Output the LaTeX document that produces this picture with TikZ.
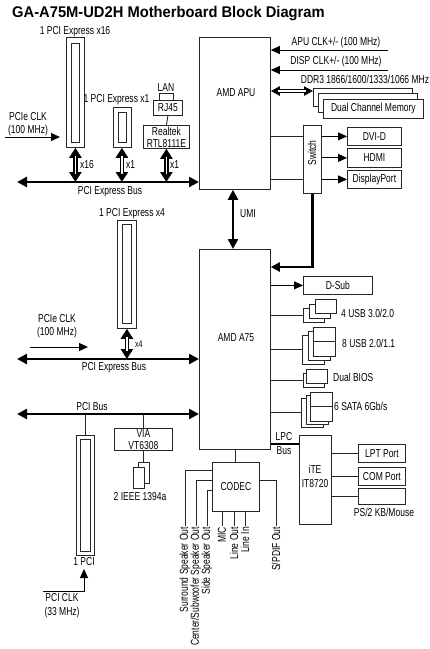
\documentclass[tikz,border=0pt]{standalone}
\usepackage{fontspec}
\setmainfont{Liberation Sans}[FakeStretch=0.74]
\newfontfamily\titlefont{Liberation Sans}[FakeStretch=0.95]
\usetikzlibrary{arrows.meta}
\newcommand\bx[7][]{\node[box,anchor=north west,minimum width={#5-#3},minimum height={#6-#4},#1] (#2) at (#3,#4) {#7};}
\begin{document}
\begin{tikzpicture}[x=1pt,y=-1pt,
  every node/.style={inner sep=0pt, font=\fontsize{11.5}{12}\selectfont},
  box/.style={draw=black!85, fill=white, line width=0.8pt, inner sep=0pt},
  ln/.style={draw=black!85, line width=0.9pt},
  bus/.style={line width=2.6pt, {Triangle[length=10pt,width=10pt]}-{Triangle[length=10pt,width=10pt]}},
  umi/.style={line width=2.4pt, {Triangle[length=10pt,width=10pt]}-{Triangle[length=10pt,width=10pt]}},
  clk/.style={line width=0.9pt, -{Triangle[length=9pt,width=8pt]}},
  dblout/.style={line width=4.6pt, {Triangle[length=10pt,width=12pt]}-{Triangle[length=10pt,width=12pt]}},
  dblsout/.style={line width=4pt, {Triangle[length=9pt,width=9pt]}-{Triangle[length=9pt,width=9pt]}},
  dblin/.style={line width=1.4pt, white, shorten <=8pt, shorten >=8pt},
  rot/.style={rotate=90, anchor=east, inner sep=0pt},
]
\fill[white] (0,0) rectangle (430,649);
\useasboundingbox (0,0) rectangle (430,649);

% title
\node[anchor=base west, font=\titlefont\fontsize{15.5}{18}\selectfont\bfseries] (title) at (12,17) {GA-A75M-UD2H Motherboard Block Diagram};

% APU and A75
\bx{apu}{199}{37}{270}{189}{}
\node (apulbl) at (236,93) {AMD APU};
\bx{a75}{199}{249}{270}{449}{}
\node (a75lbl) at (236,338) {AMD A75};
\draw[umi] ([xshift=34pt]apu.south west) -- ([xshift=34pt]a75.north west);
\node[anchor=west] (umilbl) at (240,214) {UMI};

% clocks into APU
\coordinate (apuclk) at (388,50);
\draw[clk] (apuclk) -- (apuclk -| apu.east);
\node (apuclklbl) at (336,43) {APU CLK+/- (100 MHz)};
\coordinate (dispclk) at (388,70);
\draw[clk] (dispclk) -- (dispclk -| apu.east);
\node (dispclklbl) at (336,62) {DISP CLK+/- (100 MHz)};
\node (ddrlbl) at (365,79) {DDR3 1866/1600/1333/1066 MHz};

% memory
\bx{mem1}{313}{88}{412}{106}{}
\bx{mem2}{318}{93}{417}{112}{}
\bx{mem3}{323}{99}{423}{118}{Dual Channel Memory}
\draw[dblsout] (apu.east |- 0,91) -- (mem1.west |- 0,91);
\draw[dblin, shorten <=7pt, shorten >=7pt] (apu.east |- 0,91) -- (mem1.west |- 0,91);

% switch and display outputs
\bx{sw}{303}{125}{321}{193}{}
\node[rotate=90] (swlbl) at (312,153) {Switch};
\bx{dvi}{347}{127}{401}{145}{DVI-D}
\bx{hdmi}{347}{148}{401}{167}{HDMI}
\bx{dp}{347}{170}{401}{188}{DisplayPort}
\draw[ln] (apu.east |- dvi.west) -- (sw.west |- dvi.west);
\draw[ln] (apu.east |- dp.west) -- (sw.west |- dp.west);
\draw[clk] (sw.east |- dvi.west) -- (dvi.west);
\draw[clk] (sw.east |- hdmi.west) -- (hdmi.west);
\draw[clk] (sw.east |- dp.west) -- (dp.west);
\draw[line width=2.4pt, -{Triangle[length=9pt,width=9pt]}] (sw.south) |- ([yshift=-18pt]a75.north east);

% A75 right side
\bx{dsub}{303}{276}{372}{294}{D-Sub}
\draw[clk] (a75.east |- dsub.west) -- (dsub.west);

\bx{usb3c}{303}{308}{324}{322}{}
\bx{usb3b}{309}{303.5}{330}{317.5}{}
\bx{usb3a}{315}{299}{336}{313}{}
\draw[ln] (a75.east |- usb3c.west) -- (usb3c.west);
\node[anchor=west] (usb3lbl) at (341,313) {4 USB 3.0/2.0};

\bx{usb2c}{302}{335}{324}{364}{}
\bx{usb2b}{307.5}{331}{329.5}{360}{}
\bx{usb2a}{313}{327}{335}{356}{}
\draw[ln] (usb2a.west) -- (usb2a.east);
\draw[ln] (a75.east |- usb2c.west) -- (usb2c.west);
\node[anchor=west] (usb2lbl) at (342,343) {8 USB 2.0/1.1};

\bx{biosb}{303}{373}{324}{387}{}
\bx{biosa}{306}{369}{327}{383}{}
\draw[ln] (a75.east |- biosb.west) -- (biosb.west);
\node[anchor=west] (bioslbl) at (333,377) {Dual BIOS};

\bx{satac}{301}{398}{323}{427}{}
\bx{satab}{305.5}{395}{327.5}{424}{}
\bx{sataa}{310}{392}{332}{421}{}
\draw[ln] (sataa.west) -- (sataa.east);
\draw[ln] (a75.east |- satac.west) -- (satac.west);
\node[anchor=west] (satalbl) at (334,406) {6 SATA 6Gb/s};

% LPC / Super I/O
\bx{ite}{299}{435}{331}{524}{}
\node[align=center] (itelbl) at (315,476) {iTE\\[2pt]IT8720};
\draw[line width=2pt] (a75.east |- 0,444) -- (ite.west |- 0,444);
\node (lpclbl) at (284,437) {LPC};
\node (buslbl) at (284,451) {Bus};
\bx{lpt}{358}{444}{405}{462}{LPT Port}
\bx{com}{358}{467}{405}{485}{COM Port}
\bx{ps2}{358}{488}{405}{504}{}
\node (ps2lbl) at (384,512) {PS/2 KB/Mouse};
\draw[ln] (ite.east |- lpt.west) -- (lpt.west);
\draw[ln] (ite.east |- com.west) -- (com.west);
\draw[ln] (ite.east |- ps2.west) -- (ps2.west);

% CODEC
\bx{codec}{212}{462}{259}{511}{CODEC}
\draw[ln] (codec.north |- a75.south) -- (codec.north);
\node[rot] (surr) at (185,527) {Surround Speaker Out};
\node[rot] (cent) at (196,527) {Center/Subwoofer Speaker Out};
\node[rot] (side) at (207,527) {Side Speaker Out};
\node[rot] (mic) at (222,527) {MIC};
\node[rot] (lout) at (234,527) {Line Out};
\node[rot] (lin) at (245,527) {Line In};
\node[rot] (spdif) at (276,527) {S/PDIF Out};
\draw[ln, shorten >=1.5pt] ([yshift=-8pt]codec.north west) -| (surr.east);
\draw[ln, shorten >=1.5pt] ([yshift=-18pt]codec.north west) -| (cent.east);
\draw[ln, shorten >=1.5pt] ([yshift=-28pt]codec.north west) -| (side.east);
\draw[ln, shorten >=1.5pt] (codec.south -| mic.east) -- (mic.east);
\draw[ln, shorten >=1.5pt] (codec.south -| lout.east) -- (lout.east);
\draw[ln, shorten >=1.5pt] (codec.south -| lin.east) -- (lin.east);
\draw[ln, shorten >=1.5pt] ([yshift=-18pt]codec.north east) -| (spdif.east);

% top-left: PCIe slots and LAN
\bx{sx16}{66}{37}{84}{147}{}
\bx{sx16i}{71}{43}{79}{142}{}
\node (x16lbl) at (75,32) {1 PCI Express x16};
\bx{sx1}{113}{107}{131}{147}{}
\bx{sx1i}{118}{112}{126}{142}{}
\node (x1lbl) at (116.5,100) {1 PCI Express x1};
\node (lanlbl) at (166,88) {LAN};
\bx{rjtab}{159}{93}{173}{100}{}
\bx{rj}{153}{100}{182}{115}{RJ45}
\bx[align=center]{rtl}{143}{125}{189}{148}{Realtek\\RTL8111E}
\draw[ln] (rj.south) -- (rtl.north);

\node[align=center] (clk1lbl) at (28,124) {PCIe CLK\\[1pt](100 MHz)};
\coordinate (clk1s) at (5,137);
\coordinate (clk1e) at (60,137);
\draw[clk] (clk1s) -- (clk1e);

\coordinate (busAl) at (17,182);
\draw[dblout] (sx16.south) -- (sx16.south |- busAl);
\draw[dblin] (sx16.south) -- (sx16.south |- busAl);
\draw[dblout] ([xshift=-0.5pt]sx1.south) -- ([xshift=-0.5pt]sx1.south |- busAl);
\draw[dblin] ([xshift=-0.5pt]sx1.south) -- ([xshift=-0.5pt]sx1.south |- busAl);
\draw[dblout] (rtl.south) -- (rtl.south |- busAl);
\draw[dblin] (rtl.south) -- (rtl.south |- busAl);
\draw[bus] (busAl) -- (busAl -| apu.west);
\node (busAlbl) at (110,192) {PCI Express Bus};
\node[anchor=west] (x16a) at (80,165) {x16};
\node[anchor=west] (x1a) at (126,165) {x1};
\node[anchor=west] (x1b) at (170,165) {x1};

% middle-left: x4 slot
\bx{sx4}{117}{220}{136}{328}{}
\bx{sx4i}{122}{224}{131}{323}{}
\node (x4lbl) at (132,214) {1 PCI Express x4};
\coordinate (busBl) at (17,359);
\draw[dblout] (sx4.south) -- (sx4.south |- busBl);
\draw[dblin] (sx4.south) -- (sx4.south |- busBl);
\draw[bus] (busBl) -- (busBl -| a75.west);
\node[anchor=west, font=\fontsize{9.5}{10}\selectfont] (x4a) at (135,344) {x4};
\node (busBlbl) at (114,368) {PCI Express Bus};
\node[align=center] (clk2lbl) at (57,326) {PCIe CLK\\[1pt](100 MHz)};
\coordinate (clk2s) at (30,347);
\coordinate (clk2e) at (88,347);
\draw[clk] (clk2s) -- (clk2e);

% PCI bus
\coordinate (busCl) at (17,414);
\bx{spci}{76}{435}{94}{555}{}
\bx{spcii}{80}{439}{90}{551}{}
\draw[ln] (spci.north |- busCl) -- (spci.north);
\node (pcilbl) at (84,562) {1 PCI};
\coordinate (pciclk) at (43,591);
\coordinate (pciclke) at (84,569);
\draw[clk] (pciclk) -| (pciclke);
\node[align=center] (pciclklbl) at (62,606) {PCI CLK\\[2pt](33 MHz)};
\bx[align=center]{via}{114}{428}{172}{450}{VIA\\VT6308}
\draw[ln] (via.north |- busCl) -- (via.north);
\bx{fwb}{138}{462}{149}{483}{}
\bx{fwa}{133}{467}{144}{488}{}
\draw[ln] (via.south) -- (via.south |- fwb.north);
\node (fwlbl) at (140,497) {2 IEEE 1394a};
\draw[bus] (busCl) -- (busCl -| a75.west);
\node (busClbl) at (92,407) {PCI Bus};
\end{tikzpicture}
\end{document}
